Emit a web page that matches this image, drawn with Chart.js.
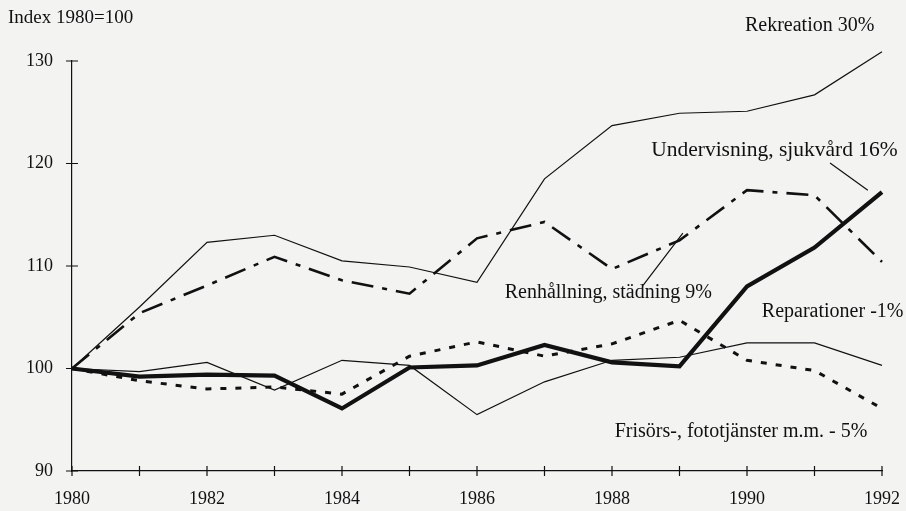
<!DOCTYPE html>
<html>
<head>
<meta charset="utf-8">
<script src="https://cdn.jsdelivr.net/npm/chart.js@4.4.1/dist/chart.umd.min.js"></script>
<style>
  html, body { margin: 0; padding: 0; background: #f3f3f1; }
  canvas { display: block; }
</style>
</head>
<body>
<canvas id="chart" width="906" height="511"></canvas>
<script>
// Index 1980=100, värden
const years = [1980, 1981, 1982, 1983, 1984, 1985, 1986, 1987, 1988, 1989, 1990, 1991, 1992];
const undervisning = [100, 99.2, 99.4, 99.3, 96.1, 100.1, 100.3, 102.3, 100.6, 100.2, 108.0, 111.8, 117.2];
const rekreation   = [100, 106.0, 112.3, 113.0, 110.5, 109.9, 108.4, 118.5, 123.7, 124.9, 125.1, 126.7, 130.9];
const renhallning  = [100, 105.4, 108.1, 110.9, 108.6, 107.3, 112.7, 114.3, 109.7, 112.5, 117.4, 116.9, 110.4];
const reparationer = [100, 99.7, 100.6, 97.9, 100.8, 100.3, 95.5, 98.7, 100.8, 101.1, 102.5, 102.5, 100.3];
const frisors      = [100, 98.8, 98.0, 98.2, 97.5, 101.2, 102.6, 101.2, 102.4, 104.7, 100.8, 99.8, 96.1];
const yTicks = [90, 100, 110, 120, 130];
const xLabelYears = [1980, 1982, 1984, 1986, 1988, 1990, 1992];

const INK = '#111111';
const SERIF = '"Liberation Serif", "DejaVu Serif", serif';

// etiketter i diagrammet (år, indexvärde = vänsterkant, mitt)
const notes = [
  { text: 'Rekreation 30%', year: 1989.97, value: 133.4, size: 20 },
  { text: 'Undervisning, sjukvård 16%', year: 1988.58, value: 121.3, size: 21.5 },
  { text: 'Renhållning, städning 9%', year: 1986.41, value: 107.4, size: 20 },
  { text: 'Reparationer -1%', year: 1990.22, value: 105.5, size: 20 },
  { text: 'Frisörs-, fototjänster m.m. - 5%', year: 1988.04, value: 93.8, size: 20 }
];
const leaders = [
  { from: [1991.23, 120.05], to: [1991.79, 117.4] },
  { from: [1988.46, 108.1], to: [1989.05, 113.2] }
];

function toPoints(values){
  return years.map((yr, i) => ({ x: yr, y: values[i] }));
}

const crossTicks = {
  id: 'crossTicks',
  afterDraw(chart){
    const { ctx, scales: { x, y } } = chart;
    ctx.save();
    ctx.strokeStyle = INK;
    ctx.lineWidth = 1.2;
    ctx.beginPath();
    years.forEach(v => {
      const px = x.getPixelForValue(v);
      ctx.moveTo(px, y.bottom - 5);
      ctx.lineTo(px, y.bottom + 5);
    });
    yTicks.forEach(v => {
      const py = y.getPixelForValue(v);
      ctx.moveTo(x.left - 6, py);
      ctx.lineTo(x.left + 6, py);
    });
    leaders.forEach(l => {
      ctx.moveTo(x.getPixelForValue(l.from[0]), y.getPixelForValue(l.from[1]));
      ctx.lineTo(x.getPixelForValue(l.to[0]), y.getPixelForValue(l.to[1]));
    });
    ctx.stroke();

    ctx.fillStyle = INK;
    ctx.textAlign = 'left';
    ctx.textBaseline = 'middle';
    notes.forEach(n => {
      ctx.font = n.size + 'px ' + SERIF;
      ctx.fillText(n.text, x.getPixelForValue(n.year), y.getPixelForValue(n.value));
    });
    ctx.font = '19px ' + SERIF;
    ctx.fillText('Index 1980=100', 8, 18);
    ctx.restore();
  }
};

Chart.defaults.font.family = SERIF;
Chart.defaults.color = INK;

new Chart(document.getElementById('chart'), {
  type: 'line',
  data: {
    datasets: [
      { label: 'Undervisning, sjukvård 16%', data: toPoints(undervisning), borderColor: INK, borderWidth: 4.2, clip: false },
      { label: 'Rekreation 30%', data: toPoints(rekreation), borderColor: INK, borderWidth: 1.2, clip: false },
      { label: 'Renhållning, städning 9%', data: toPoints(renhallning), borderColor: INK, borderWidth: 2.6, borderDash: [22, 9, 5, 9], clip: false },
      { label: 'Reparationer -1%', data: toPoints(reparationer), borderColor: INK, borderWidth: 1.2, clip: false },
      { label: 'Frisörs-, fototjänster m.m. - 5%', data: toPoints(frisors), borderColor: INK, borderWidth: 3, borderDash: [6, 9], clip: false }
    ]
  },
  options: {
    responsive: false,
    animation: false,
    layout: { padding: { top: 61, right: 24, bottom: 0, left: 0 } },
    elements: {
      point: { radius: 0, hoverRadius: 0 },
      line: { tension: 0, fill: false, borderCapStyle: 'butt', borderJoinStyle: 'miter' }
    },
    plugins: {
      legend: { display: false },
      tooltip: { enabled: false }
    },
    scales: {
      x: {
        type: 'linear',
        min: 1980,
        max: 1992,
        afterFit: s => { s.height = 40; s.paddingLeft = 0; s.paddingRight = 0; },
        grid: { display: false, drawTicks: false },
        border: { display: true, color: INK, width: 1.2 },
        ticks: {
          stepSize: 1,
          autoSkip: false,
          maxRotation: 0,
          padding: 17,
          font: { size: 18 },
          callback: v => xLabelYears.includes(v) ? String(v) : ''
        }
      },
      y: {
        min: 90,
        max: 130,
        afterFit: s => { s.width = 72; s.paddingTop = 0; s.paddingBottom = 0; },
        grid: { display: false, drawTicks: false },
        border: { display: true, color: INK, width: 1.2 },
        ticks: {
          stepSize: 10,
          padding: 19,
          font: { size: 18 }
        }
      }
    }
  },
  plugins: [crossTicks]
});
</script>
</body>
</html>
